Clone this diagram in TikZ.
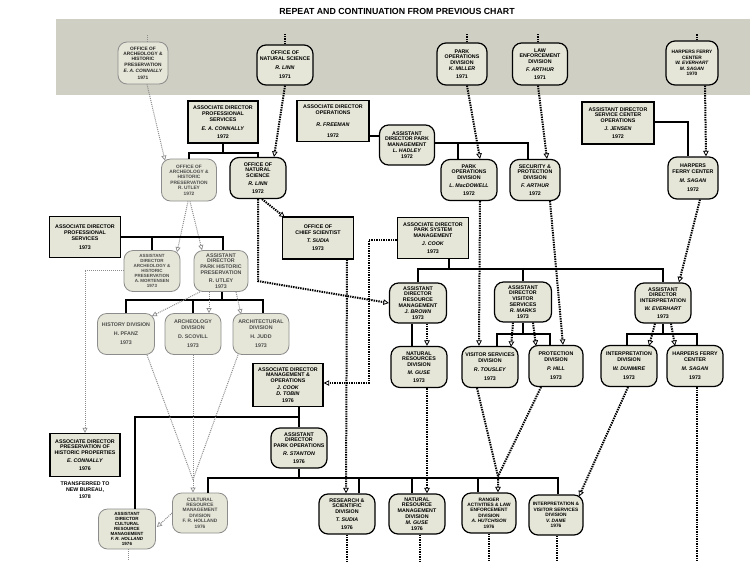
\documentclass[tikz,border=0pt]{standalone}
\usepackage{fontspec}
\setmainfont{Liberation Sans}
\usetikzlibrary{arrows.meta,calc}
\definecolor{bandcol}{RGB}{207,207,196}
\definecolor{boxfill}{RGB}{229,230,215}
\begin{document}
\begin{tikzpicture}[x=1pt,y=-1pt,
  box/.style={draw=black, fill=boxfill, align=center, inner sep=0.3pt, font=\fontsize{5.3}{5.9}\selectfont\bfseries, line width=1.2pt},
  rnd/.style={box, rounded corners=9pt, minimum width=56pt, minimum height=41pt},
  rct/.style={box, rectangle, minimum width=71pt, minimum height=42pt, line width=1.4pt},
  faint/.style={draw=black!45, text=black!70, line width=0.8pt},
  dense/.style={font=\fontsize{4.8}{5.4}\selectfont\bfseries},
  denser/.style={font=\fontsize{4.5}{5.0}\selectfont\bfseries},
  tree/.style={line width=2pt},
  dline/.style={line width=2pt, dash pattern=on 1.4pt off 1pt},
  darr/.style={dline, -{Triangle[open, length=5.5pt, width=5.5pt, line width=0.8pt]}},
  fline/.style={draw=black!45, line width=1pt, dash pattern=on 1pt off 1pt},
  farr/.style={fline, -{Triangle[open, length=5pt, width=5pt, line width=0.7pt]}},
]
\useasboundingbox (0,0) rectangle (750,566);
\fill[bandcol] (56,19) rectangle (750,95);
\node[font=\fontsize{8.8}{9.5}\selectfont\bfseries] (title) at (397,11) {REPEAT AND CONTINUATION FROM PREVIOUS CHART};

% ---- row 1 (in band)
\node[rnd, faint, dense, minimum width=50pt, minimum height=42pt, text=black!85] (arch71) at (143,63) {OFFICE OF\\ARCHEOLOGY \&\\HISTORIC\\PRESERVATION\\[1pt]\textit{E. A. CONNALLY}\\[1pt]1971};
\node[rnd, minimum height=40pt] (ns71) at (285,65) {OFFICE OF\\NATURAL SCIENCE\\[3pt]\textit{R. LINN}\\[3pt]1971};
\node[rnd, minimum width=50pt, minimum height=42pt] (po71) at (462,64) {PARK\\OPERATIONS\\DIVISION\\\textit{K. MILLER}\\[2pt]1971};
\node[rnd, minimum width=55pt, minimum height=42pt] (le71) at (540,64) {LAW\\ENFORCEMENT\\DIVISION\\[2pt]\textit{F. ARTHUR}\\[2pt]1971};
\node[rnd, dense, minimum width=52pt, minimum height=44pt] (hfc70) at (692,63) {HARPERS FERRY\\CENTER\\\textit{W. EVERHART}\\\textit{M. SAGAN}\\1970};

% ---- row 2
\node[rct, minimum width=70pt] (ps72) at (223,122) {ASSOCIATE DIRECTOR\\PROFESSIONAL\\SERVICES\\[3pt]\textit{E. A. CONNALLY}\\[2pt]1972};
\node[rct, minimum width=72pt, minimum height=41pt] (op72) at (333,121) {ASSOCIATE DIRECTOR\\OPERATIONS\\[6pt]\textit{R. FREEMAN}\\[5pt]1972};
\node[rnd, minimum width=55pt, minimum height=40pt] (pm72) at (407,145) {ASSISTANT\\DIRECTOR PARK\\MANAGEMENT\\\textit{L. HADLEY}\\1972};
\node[rnd] (pod72) at (469,180) {PARK\\OPERATIONS\\DIVISION\\[2pt]\textit{L. MacDOWELL}\\[2pt]1972};
\node[rnd, minimum width=50pt] (sp72) at (535,180) {SECURITY \&\\PROTECTION\\DIVISION\\[2pt]\textit{F. ARTHUR}\\[2pt]1972};
\node[rct, minimum width=72pt] (sco72) at (618,123) {ASSISTANT DIRECTOR\\SERVICE CENTER\\OPERATIONS\\[2pt]\textit{J. JENSEN}\\[2pt]1972};
\node[rnd, minimum width=50pt, minimum height=42pt] (hfc72) at (693,178) {HARPERS\\FERRY CENTER\\[3pt]\textit{M. SAGAN}\\[3pt]1972};
\node[rnd, faint, dense, minimum width=55pt, minimum height=42pt] (arch72) at (189,180) {OFFICE OF\\ARCHEOLOGY \&\\HISTORIC\\PRESERVATION\\R. UTLEY\\1972};
\node[rnd] (ns72) at (258,178) {OFFICE OF\\NATURAL\\SCIENCE\\[2pt]\textit{R. LINN}\\[2pt]1972};

% ---- row 3
\node[rct, minimum height=41pt] (ps73) at (85,237) {ASSOCIATE DIRECTOR\\PROFESSIONAL\\SERVICES\\[3pt]1973};
\node[rnd, faint, denser] (adarch73) at (152,271) {ASSISTANT\\DIRECTOR\\ARCHEOLOGY \&\\HISTORIC\\PRESERVATION\\A. MORTENSEN\\1973};
\node[rnd, faint, minimum width=54pt] (adphp73) at (221,271) {ASSISTANT\\DIRECTOR\\PARK HISTORIC\\PRESERVATION\\[2pt]R. UTLEY\\1973};
\node[rct] (cs73) at (318,238) {OFFICE OF\\CHIEF SCIENTIST\\[2pt]\textit{T. SUDIA}\\[2pt]1973};
\node[rct, minimum height=41pt] (psm73) at (433,238) {ASSOCIATE DIRECTOR\\PARK SYSTEM\\MANAGEMENT\\[2pt]\textit{J. COOK}\\[2pt]1973};
\node[rnd, minimum width=57pt, minimum height=40pt] (rm73) at (418,303) {ASSISTANT\\DIRECTOR\\RESOURCE\\MANAGEMENT\\\textit{J. BROWN}\\1973};
\node[rnd, minimum width=57pt, minimum height=40pt] (vs73) at (523,302) {ASSISTANT\\DIRECTOR\\VISITOR\\SERVICES\\\textit{R. MARKS}\\1973};
\node[rnd, minimum height=40pt] (int73) at (663,303) {ASSISTANT\\DIRECTOR\\INTERPRETATION\\[2pt]\textit{W. EVERHART}\\[2pt]1973};

% ---- row 4
\node[rnd, faint, minimum width=57pt] (hist73) at (126,334) {HISTORY DIVISION\\[3pt]H. PFANZ\\[3pt]1973};
\node[rnd, faint] (archd73) at (193,334) {ARCHEOLOGY\\DIVISION\\[3pt]D. SCOVILL\\[3pt]1973};
\node[rnd, faint] (archt73) at (261,334) {ARCHITECTURAL\\DIVISION\\[3pt]H. JUDD\\[3pt]1973};
\node[rnd] (nrd73) at (419,367) {NATURAL\\RESOURCES\\DIVISION\\[2pt]\textit{M. GUSE}\\[2pt]1973};
\node[rnd] (vsd73) at (490,367) {VISITOR SERVICES\\DIVISION\\[3pt]\textit{R. TOUSLEY}\\[3pt]1973};
\node[rnd, minimum width=54pt] (pd73) at (556,366) {PROTECTION\\DIVISION\\[3pt]\textit{P. HILL}\\[3pt]1973};
\node[rnd] (id73) at (629,366) {INTERPRETATION\\DIVISION\\[3pt]\textit{W. DUNMIRE}\\[3pt]1973};
\node[rnd] (hfc73) at (695,366) {HARPERS FERRY\\CENTER\\[3pt]\textit{M. SAGAN}\\[3pt]1973};

% ---- row 5
\node[rct, minimum width=70pt, minimum height=43pt] (mo76) at (288,385) {ASSOCIATE DIRECTOR\\MANAGEMENT \&\\OPERATIONS\\[1pt]\textit{J. COOK}\\\textit{D. TOBIN}\\[1pt]1976};
\node[rct, minimum width=70pt, minimum height=43pt] (pho76) at (85,455) {ASSOCIATE DIRECTOR\\PRESERVATION OF\\HISTORIC PROPERTIES\\[2pt]\textit{E. CONNALLY}\\[2pt]1976};
\node[font=\fontsize{5.3}{6.2}\selectfont\bfseries, align=center] (trans) at (85,490) {TRANSFERRED TO\\NEW BUREAU,\\1978};
\node[rnd, minimum height=40pt] (pko76) at (299,448) {ASSISTANT\\DIRECTOR\\PARK OPERATIONS\\[2pt]\textit{R. STANTON}\\[2pt]1976};

% ---- row 6
\node[rnd, faint, dense, minimum width=55pt, minimum height=40pt] (crmd76) at (200,513) {CULTURAL\\RESOURCE\\MANAGEMENT\\DIVISION\\F. R. HOLLAND\\1976};
\node[rnd, faint, denser, text=black, minimum width=57pt, minimum height=40pt] (adcrm76) at (127,529) {ASSISTANT\\DIRECTOR\\CULTURAL\\RESOURCE\\MANAGEMENT\\\textit{F. R. HOLLAND}\\1976};
\node[rnd, minimum height=40pt] (rsd76) at (347,514) {RESEARCH \&\\SCIENTIFIC\\DIVISION\\[2pt]\textit{T. SUDIA}\\[2pt]1976};
\node[rnd, minimum height=40pt] (nrm76) at (417,514) {NATURAL\\RESOURCE\\MANAGEMENT\\DIVISION\\\textit{M. GUSE}\\1976};
\node[rnd, dense, minimum width=54pt, minimum height=40pt] (ral76) at (489,513) {RANGER\\ACTIVITIES \& LAW\\ENFORCEMENT\\DIVISION\\\textit{A. HUTCHISON}\\1976};
\node[rnd, dense, minimum width=54pt, minimum height=40pt] (ivs76) at (556,515) {INTERPRETATION \&\\VISITOR SERVICES\\DIVISION\\\textit{V. DAME}\\1976};

% ---- stubs above band nodes
\draw[fline] ([xshift=4pt]arch71.north) -- ++(0,-8);
\draw[dline] (ns71.north) -- ++(0,-10);
\draw[dline] ([xshift=5pt]po71.north) -- ++(0,-9);
\draw[dline] ([xshift=-2pt]le71.north) -- ++(0,-9);
\draw[dline] ([xshift=5pt]hfc70.north) -- ++(0,-7);

% ---- row 1 -> row 2
\draw[farr] ([xshift=4pt]arch71.south) -- ([xshift=-24pt,yshift=-2pt]arch72.north);
\draw[darr] (ns71.south) -- ([xshift=16pt]ns72.north);
\draw[darr] ([xshift=5pt]po71.south) -- ([xshift=11pt]pod72.north);
\draw[darr] ([xshift=-2pt]le71.south) -- ([xshift=12pt]sp72.north);
\draw[darr] ([xshift=13pt]hfc70.south) -- ([xshift=13pt]hfc72.north);

% ---- row 2 trees
\draw[tree] (arch72.north) -- ++(0,-6) coordinate (b1) -| (ns72.north);
\draw[tree] (ps72.south) -- (ps72.south |- b1);
\coordinate (c1) at ([yshift=-15pt]op72.east);
\draw[tree] (c1) -- (c1 -| pm72.west);
\draw[tree] ([xshift=-11pt]pod72.north) |- ([yshift=2pt]pm72.east);
\draw[tree] ([xshift=-7pt]sp72.north) |- ([yshift=2pt]pm72.east);
\draw[tree] ([yshift=1pt]sco72.east) -| ([xshift=-5pt]hfc72.north);

% ---- row 2 -> row 3
\draw[farr] ([xshift=-1pt]arch72.south) -- ([xshift=25pt,yshift=-2pt]adarch73.north);
\draw[farr] ([xshift=1pt]arch72.south) -- ([xshift=-19pt]adphp73.north);
\draw[darr] ([xshift=4pt]ns72.south) -- ([xshift=3pt,yshift=-1pt]cs73.north west);
\draw[darr] (ns72.south) -- ++(0,82) -- (rm73.west);
\draw[tree] (ps73.east) -| (adarch73.north);
\draw[tree] (ps73.east) -| ([xshift=2pt]adphp73.north);
\draw[darr] ([xshift=11pt]pod72.south) -- ([xshift=-11pt]vsd73.north);
\draw[darr] ([xshift=15pt]sp72.south) -- ([xshift=7pt]pd73.north);
\draw[darr] ([xshift=7pt]hfc72.south) -- ([xshift=16pt]int73.north);

% ---- row 3 trees
\draw[tree] ([xshift=16pt]psm73.south) -- ++(0,10) coordinate (u2);
\draw[tree] (rm73.north) |- (u2) -| (int73.north);
\draw[tree] (vs73.north) -- (vs73.north |- u2);
\draw[tree] ([xshift=1pt]adphp73.south) -- ++(0,8) coordinate (u1);
\draw[tree] (hist73.north) |- (u1) -| ([xshift=2pt]archt73.north);
\draw[tree] (archd73.north) -- (archd73.north |- u1);

% ---- row 3 -> row 4
\draw[farr] ([yshift=1pt]adarch73.west) -| (pho76.north);
\draw[farr] ([xshift=-21pt]adphp73.south) -- ([xshift=-3pt,yshift=-3pt]hist73.north east);
\draw[farr] ([xshift=-12pt]adphp73.south) -- ([xshift=16pt]archd73.north);
\draw[farr] ([xshift=15pt]adphp73.south) -- ([xshift=-20pt,yshift=-1pt]archt73.north);
\draw[tree] ([xshift=-6pt]rm73.south) -- ([xshift=-7pt]nrd73.north);
\draw[darr] ([xshift=9pt]rm73.south) -- ([xshift=8pt]nrd73.north);
\draw[tree] (vs73.south) -- ++(0,11) coordinate (u3);
\draw[tree] ([xshift=7pt]vsd73.north) |- (u3) -| ([xshift=-6pt]pd73.north);
\draw[darr] ([xshift=-10pt]vs73.south) -- ([xshift=21pt,yshift=-1pt]vsd73.north);
\draw[darr] ([xshift=10pt]vs73.south) -- ([xshift=-20pt,yshift=-1pt]pd73.north);
\draw[tree] (int73.south) -- ++(0,10) coordinate (u4);
\draw[tree] ([xshift=-2pt]id73.north) |- (u4) -| ([xshift=2pt]hfc73.north);
\draw[darr] ([xshift=-8pt]int73.south) -- ([xshift=20pt,yshift=-1pt]id73.north);
\draw[darr] ([xshift=8pt]int73.south) -- ([xshift=-20pt,yshift=-1pt]hfc73.north);

% ---- to lower rows
\draw[darr] ([xshift=29pt]cs73.south) -- ([xshift=-1pt]rsd76.north);
\draw[darr] ([yshift=-2pt]psm73.west) -- ++(-28,0) |- ([yshift=2pt]mo76.east);
\draw[darr] ([xshift=8pt]nrd73.south) -- ([xshift=10pt]nrm76.north);
\coordinate (cv) at ([xshift=9pt,yshift=16pt]ral76.north);
\draw[dline] ([xshift=-15pt]pd73.south) -- (cv);
\draw[darr] ([xshift=-13pt]vsd73.south) -- (cv) -- ([xshift=9pt]ral76.north);
\draw[darr] ([xshift=-1pt]id73.south) -- ([xshift=23pt,yshift=-2pt]ivs76.north);

% ---- management & operations trees
\draw[tree] ([xshift=11pt]mo76.south) -- (pko76.north);
\draw[tree] ([xshift=8pt]adcrm76.north) |- ([xshift=11pt,yshift=-10pt]mo76.south);
\draw[tree] (pko76.south) -- ++(0,9) coordinate (u5);
\draw[tree] ([xshift=8pt]crmd76.north) |- (u5) -| ([xshift=2pt]ivs76.north);
\draw[tree] ([xshift=12pt]rsd76.north) |- (u5);
\draw[tree] ([xshift=-5pt]nrm76.north) |- (u5);
\draw[tree] ([xshift=-11pt]ral76.north) |- (u5);

% ---- fine lines to cultural resource management
\coordinate (cv2) at ([xshift=-7pt,yshift=13pt]crmd76.north);
\draw[fline] ([xshift=21pt]hist73.south) -- (cv2);
\draw[fline] ([xshift=-23pt]archt73.south) -- (cv2);
\draw[farr] (archd73.south) -- (cv2) -- ([xshift=-7pt]crmd76.north);
\draw[farr] (crmd76.west) -- ([xshift=1pt,yshift=2pt]adcrm76.east);

% ---- stubs below
\draw[dline] ([xshift=2pt]hfc73.south) -- ++(0,175);
\draw[dline] (rsd76.south) -- ++(0,27);
\draw[dline] ([xshift=3pt]nrm76.south) -- ++(0,27);
\draw[dline] (ral76.south) -- ++(0,28);
\draw[dline] ([xshift=1pt]ivs76.south) -- ++(0,26);
\draw[fline] ([xshift=1pt]adcrm76.south) -- ++(0,12);
\end{tikzpicture}
\end{document}
